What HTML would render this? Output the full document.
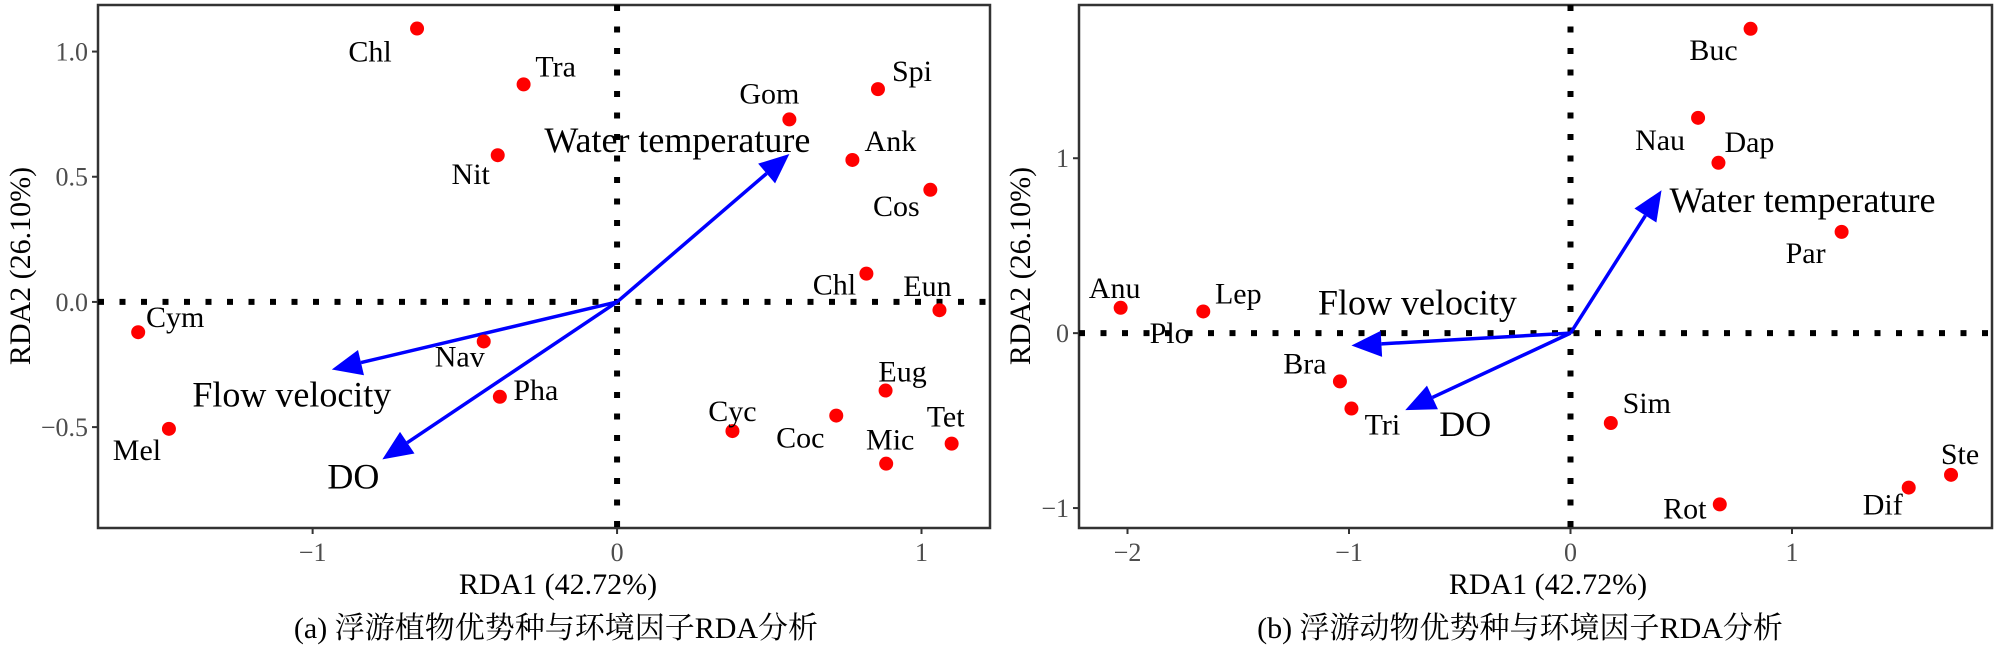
<!DOCTYPE html>
<html><head><meta charset="utf-8">
<style>
html,body{margin:0;padding:0;background:#fff;}
svg{display:block;font-family:"Liberation Serif","Noto Serif CJK SC",serif;}
</style></head>
<body>
<svg id="chart" width="2000" height="650" viewBox="0 0 2000 650" xmlns="http://www.w3.org/2000/svg"></svg>
<script>
// ---- Panel A data (phytoplankton) ----
const aSpecies = ["Chl","Tra","Nit","Gom","Spi","Ank","Cos","Chl","Eun","Cym","Nav","Pha","Mel","Eug","Cyc","Coc","Mic","Tet"];
const aRDA1 = [-0.657,-0.307,-0.392,0.566,0.857,0.773,1.029,0.819,1.059,-1.573,-0.438,-0.385,-1.472,0.882,0.379,0.720,0.884,1.099];
const aRDA2 = [1.092,0.869,0.586,0.729,0.850,0.567,0.448,0.113,-0.033,-0.121,-0.158,-0.379,-0.507,-0.354,-0.516,-0.454,-0.646,-0.566];
const aEnv = ["Water temperature","Flow velocity","DO"];
const aEnv1 = [0.566,-0.937,-0.771];
const aEnv2 = [0.591,-0.270,-0.629];
const aXTicks = [-1,0,1];
const aXTickLabels = ["\u22121","0","1"];
const aYTicks = [1.0,0.5,0.0,-0.5];
const aYTickLabels = ["1.0","0.5","0.0","\u22120.5"];
// ---- Panel B data (zooplankton) ----
const bSpecies = ["Buc","Nau","Dap","Par","Anu","Lep","Plo","Bra","Tri","Sim","Rot","Dif","Ste"];
const bRDA1 = [0.813,0.576,0.668,1.224,-2.031,-1.658,-1.9,-1.041,-0.989,0.182,0.674,1.527,1.718];
const bRDA2 = [1.740,1.231,0.974,0.579,0.145,0.124,0.0,-0.276,-0.431,-0.514,-0.979,-0.883,-0.810];
const bEnv = ["Water temperature","Flow velocity","DO"];
const bEnv1 = [0.411,-0.989,-0.746];
const bEnv2 = [0.817,-0.071,-0.440];
const bXTicks = [-2,-1,0,1];
const bXTickLabels = ["\u22122","\u22121","0","1"];
const bYTicks = [1,0,-1];
const bYTickLabels = ["1","0","\u22121"];

// label center offsets in px relative to point (layout, not data)
const aLabOff = [[-47,23],[32,-18],[-27,19],[-20,-26],[34,-18],[38,-19],[-34,16],[-32,11],[-12,-24],[37,-15],[-24,15],[36,-7],[-32,21],[17,-19],[0,-20],[-36,22],[4,-24],[-6,-27]];
const aEnvOff = [[-112,-14],[-40,25],[-29,17]];
const bLabOff = [[-37,21],[-38,22],[31,-21],[-36,21],[-6,-20],[35,-18],[20,0],[-35,-18],[31,16],[36,-20],[-35,4],[-26,17],[9,-21]];
const bEnvOff = [[141,10],[66,-43],[60,14]];

const svg = document.getElementById('chart');
const NS = "http://www.w3.org/2000/svg";
function mk(tag, attrs, parent){
  const e = document.createElementNS(NS, tag);
  for (const k in attrs) e.setAttribute(k, attrs[k]);
  (parent||svg).appendChild(e);
  return e;
}
function panel(cfg){
  const g = mk('g', {});
  
  
  const {L,R,T,B,xmin,xmax,ymin,ymax} = cfg;
  const sx = v => L + (v - xmin) / (xmax - xmin) * (R - L);
  const sy = v => B - (v - ymin) / (ymax - ymin) * (B - T);
  const fr = mk('rect', {x:L, y:T, width:R-L, height:B-T, fill:'none', stroke:'#333', 'stroke-width':2.5}, g);
  
  
  const hl = mk('line', {x1:L, x2:R, y1:sy(0), y2:sy(0), stroke:'#000', 'stroke-width':6, 'stroke-dasharray':'6 15.5'}, g);
  
  
  const vl = mk('line', {x1:sx(0), x2:sx(0), y1:T, y2:B, stroke:'#000', 'stroke-width':6, 'stroke-dasharray':'6 15.5'}, g);
  
  
  cfg.xt.forEach((v,i)=>{
    const t = mk('line', {x1:sx(v), x2:sx(v), y1:B, y2:B+6, stroke:'#333', 'stroke-width':2}, g);
    
    
    const tx = mk('text', {x:sx(v), y:B+33, 'text-anchor':'middle', 'font-size':26, fill:'#4d4d4d'}, g);
    tx.textContent = cfg.xtl[i];
    
    
  });
  cfg.yt.forEach((v,i)=>{
    const t = mk('line', {x1:L-6, x2:L, y1:sy(v), y2:sy(v), stroke:'#333', 'stroke-width':2}, g);
    
    
    const tx = mk('text', {x:L-10, y:sy(v)+9, 'text-anchor':'end', 'font-size':26, fill:'#4d4d4d'}, g);
    tx.textContent = cfg.ytl[i];
    
    
  });
  const xt = mk('text', {x:cfg.xtx, y:594, 'text-anchor':'middle', 'font-size':30}, g);
  xt.textContent = 'RDA1 (42.72%)';
  
  
  const yt = mk('text', {x:0, y:0, 'text-anchor':'middle', 'font-size':30, transform:`translate(${cfg.ytx},266) rotate(-90)`}, g);
  yt.textContent = 'RDA2 (26.10%)';
  
  
  const cap = mk('text', {x:cfg.capx, y:638, 'text-anchor':'middle', 'font-size':30}, g);
  cap.textContent = cfg.caption;
  
  
  const ox = sx(0), oy = sy(0);
  cfg.env.forEach((nm,i)=>{
    const x2 = sx(cfg.e1[i]), y2 = sy(cfg.e2[i]);
    const ang = Math.atan2(y2-oy, x2-ox);
    const hl = 30, hw = 13;
    const bx = x2 - hl*Math.cos(ang), by = y2 - hl*Math.sin(ang);
    const ln = mk('line', {x1:ox, y1:oy, x2:bx, y2:by, stroke:'#0000ff', 'stroke-width':3.5}, g);
    
    
    const px = -Math.sin(ang), py = Math.cos(ang);
    const hd = mk('polygon', {points:`${x2},${y2} ${bx+hw*px},${by+hw*py} ${bx-hw*px},${by-hw*py}`, fill:'#0000ff'}, g);
    
    
    const lb = mk('text', {x:x2+cfg.envOff[i][0], y:y2+cfg.envOff[i][1]+12, 'text-anchor':'middle', 'font-size':36}, g);
    lb.textContent = nm;
    
    
  });
  cfg.sp.forEach((nm,i)=>{
    const cx = sx(cfg.x[i]), cy = sy(cfg.y[i]);
    if (nm !== 'Plo') {
      const c = mk('circle', {cx:cx, cy:cy, r:7, fill:'#ff0000'}, g);
      
      
    }
    const lb = mk('text', {x:cx+cfg.off[i][0], y:cy+cfg.off[i][1]+10, 'text-anchor':'middle', 'font-size':30}, g);
    lb.textContent = nm;
    
    
  });
}
panel({name:'panel-a-phytoplankton', L:98, R:990, T:5, B:528, xmin:-1.705, xmax:1.225, ymin:-0.903, ymax:1.186,
  xt:aXTicks, xtl:aXTickLabels, yt:aYTicks, ytl:aYTickLabels, xtx:558, ytx:30, capx:556,
  caption:'(a) 浮游植物优势种与环境因子RDA分析',
  env:aEnv, e1:aEnv1, e2:aEnv2, envOff:aEnvOff, sp:aSpecies, x:aRDA1, y:aRDA2, off:aLabOff});
panel({name:'panel-b-zooplankton', L:1079, R:1992, T:5, B:528, xmin:-2.219, xmax:1.903, ymin:-1.114, ymax:1.876,
  xt:bXTicks, xtl:bXTickLabels, yt:bYTicks, ytl:bYTickLabels, xtx:1548, ytx:1030, capx:1520,
  caption:'(b) 浮游动物优势种与环境因子RDA分析',
  env:bEnv, e1:bEnv1, e2:bEnv2, envOff:bEnvOff, sp:bSpecies, x:bRDA1, y:bRDA2, off:bLabOff});
</script>
</body></html>
